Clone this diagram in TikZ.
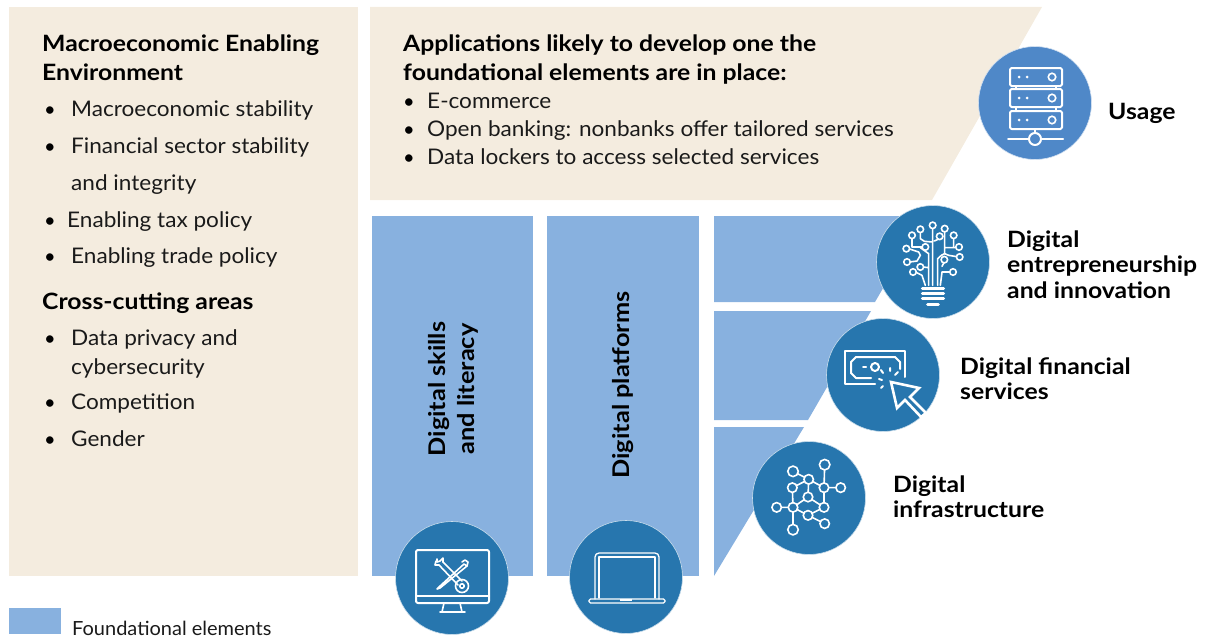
\documentclass[tikz,border=0pt]{standalone}
\usepackage{fontspec}
\setmainfont{Lato}
\newfontfamily\bodyf[FakeStretch=1.05]{Lato}
\newfontfamily\headf[FakeStretch=1.1]{Lato}
\newfontfamily\legf[FakeStretch=1.025]{Lato}
\definecolor{beige}{HTML}{F4ECDF}
\definecolor{lightblue}{HTML}{88B1DF}
\definecolor{darkblue}{HTML}{2776AE}
\definecolor{midblue}{HTML}{4F88C8}
\definecolor{ink}{HTML}{1A1A1A}
\tikzset{
  lbl/.style={anchor=base west,inner sep=0pt,text=ink,font=\bodyf\fontsize{21.5}{26}\selectfont},
  head/.style={anchor=base west,inner sep=0pt,text=black,font=\headf\fontsize{22.5}{26}\selectfont\bfseries},
  sub/.style={anchor=base west,inner sep=0pt,text=ink,font=\legf\fontsize{19.5}{24}\selectfont},
  bul/.style={anchor=base,inner sep=0pt,text=black,font=\fontsize{20}{24}\selectfont},
  vert/.style={rotate=90,inner sep=0pt,align=center,text=black,font=\headf\fontsize{23}{29}\selectfont\bfseries},
  disc/.style={circle,minimum size=113pt,inner sep=0pt,fill=darkblue,draw=white!75!darkblue,line width=.6pt},
  icon/.style={draw=white,line width=2pt,line join=round,line cap=round},
  thin icon/.style={draw=white,line width=1.6pt,line join=round,line cap=round},
  dot/.style={circle,draw=white,fill=darkblue,line width=1.6pt,inner sep=0pt,minimum size=#1},
  dot/.default=7pt
}
\begin{document}
\begin{tikzpicture}[x=1pt,y=-1pt]
\useasboundingbox (0,0) rectangle (1209,642);
% panels
\fill[beige] (9,7) rectangle (358,576);
\fill[beige] (370,7) -- (1042,7) -- (932,200) -- (370,200) -- cycle;
\fill[lightblue] (372,216) rectangle (533,576);
\fill[lightblue] (547,216) rectangle (699,576);
\fill[lightblue] (714,216) -- (925,216) -- (875,302) -- (714,302) -- cycle;
\fill[lightblue] (714,311) -- (871,311) -- (808,420) -- (714,420) -- cycle;
\fill[lightblue] (714,427) -- (804,427) -- (714,576) -- cycle;
\fill[lightblue] (9,608) rectangle (61,634);
% left text
\node[head] (m1) at (42,52) {Macroeconomic Enabling};
\node[head] (m2) at (42,80) {Environment};
\node[bul] (b1) at (50,116) {•};
\node[lbl] (t1) at (71,116) {Macroeconomic stability};
\node[bul] (b2) at (50,153) {•};
\node[lbl] (t2) at (71,153) {Financial sector stability};
\node[lbl] (t2b) at (71,190) {and integrity};
\node[bul] (b3) at (50,227) {•};
\node[lbl] (t3) at (67,227) {Enabling tax policy};
\node[bul] (b4) at (50,263) {•};
\node[lbl] (t4) at (71,263) {Enabling trade policy};
\node[head] (c1) at (42,309) {Cross-cutting areas};
\node[bul] (b5) at (50,345) {•};
\node[lbl] (t5) at (71,345) {Data privacy and};
\node[lbl] (t5b) at (71,374) {cybersecurity};
\node[bul] (b6) at (50,409) {•};
\node[lbl] (t6) at (71,409) {Competition};
\node[bul] (b7) at (50,446) {•};
\node[lbl] (t7) at (71,446) {Gender};
% top text
\node[head] (a1) at (403,52) {Applications likely to develop one the};
\node[head] (a2) at (403,80) {foundational elements are in place:};
\node[bul] (ab1) at (409,108) {•};
\node[lbl] (at1) at (427,108) {E-commerce};
\node[bul] (ab2) at (409,136) {•};
\node[lbl] (at2) at (427,136) {Open banking: nonbanks offer tailored services};
\node[bul] (ab3) at (409,164) {•};
\node[lbl] (at3) at (427,164) {Data lockers to access selected services};
% vertical labels
\node[vert] (v1) at (453,389) {Digital skills\\and literacy};
\node[vert] (v2) at (623,385) {Digital platforms};
% right labels
\node[head] (u) at (1108,119) {Usage};
\node[head] (e1) at (1007,247) {Digital};
\node[head] (e2) at (1007,272) {entrepreneurship};
\node[head] (e3) at (1007,298) {and innovation};
\node[head] (f1) at (960,374) {Digital financial};
\node[head] (f2) at (960,399) {services};
\node[head] (i1) at (893,492) {Digital};
\node[head] (i2) at (893,517) {infrastructure};
\node[sub] (leg) at (72,635) {Foundational elements};
% discs
\node[disc,fill=midblue,draw=white!75!midblue] (usage) at (1035,103) {};
\node[disc] (entre) at (933,262) {};
\node[disc] (fin) at (883,375) {};
\node[disc] (infra) at (809,498) {};
\node[disc] (skills) at (452,578) {};
\node[disc] (plat) at (626,577) {};
% usage icon
\begin{scope}[shift={(usage.center)}]
  \foreach \yy in {-35,-14,8}{
    \draw[icon,rounded corners=1.5pt] (-25,\yy) rectangle (27,\yy+18);
    \node[dot=7.5pt,fill=midblue] at (17,\yy+9) {};
    \fill[white] (-16,\yy+9) circle (1.5) (-8,\yy+9) circle (1.5);
  }
  \draw[thin icon] (-19,-17)--(-19,-14) (21,-17)--(21,-14) (-19,4)--(-19,8) (21,4)--(21,8);
  \draw[icon] (0,26)--(0,30) (-27,36)--(-6,36) (6,36)--(28,36);
  \node[circle,draw=white,line width=2pt,minimum size=12pt,inner sep=0pt] at (0,36) {};
\end{scope}
% bulb icon
\begin{scope}[shift={(entre.center)},x=.3333pt,y=-.3333pt]
  \begin{scope}[shift={(-218,-215)}]
  \draw[thin icon] (217,285)--(217,115)
    (180,125)--(180,145)--(192,153)--(217,155)
    (253,125)--(253,190)--(243,195)--(232,205)--(232,285)
    (238,145)--(222,152)
    (155,145)--(155,170)--(195,170)
    (180,172)--(205,190)--(205,285)
    (253,172)--(290,172)
    (280,145)--(280,172)
    (145,175)--(175,185)--(180,195)--(170,212)--(148,215)
    (296,200)--(265,195)--(253,190)
    (252,215)--(245,228)
    (188,230)--(205,232)
    (165,245)--(185,255)--(195,285)
    (270,245)--(245,245)--(240,285);
  \draw[white,line width=3pt,line cap=round] (186,295)--(250,295) (186,310)--(250,310) (186,325)--(250,325) (202,343)--(234,343);
  \foreach \xx/\yy in {217/105,180/117,253/115,155/135,238/138,280/135,138/175,195/170,296/170,298/200,140/215,252/208,180/230,158/245,278/245}
    \node[dot=6.5pt] at (\xx,\yy) {};
  \end{scope}
\end{scope}
% money icon
\begin{scope}[shift={(fin.center)}]
  \draw[icon] (-8,9)--(-38,9)--(-38,-24)--(22,-24)--(22,2);
  \draw[icon] (-12,3)--(-27,3)--(-32,-2)--(-32,-13)--(-27,-18)--(12,-18)--(17,-13)--(17,-6);
  \draw[icon] (-20,-8)--(-17,-8);
  \draw[icon] (-8,-8) circle (4);
  \draw[icon] (-2,-5)--(0,-2) (7,-7)--(7,-4) (15,-3)--(12,0) (-4,4)--(-1,5) (-2,13)--(0,11);
  \draw[line width=2.6pt,draw=white,line join=miter] (8,7)--(36,13)--(27,22)--(43,38)--(38,42)--(22,25)--(14,33)--cycle;
\end{scope}
% network icon
\begin{scope}[shift={(infra.center)},x=.3333pt,y=-.3333pt]
  \begin{scope}[shift={(-193,-203)}]
  \coordinate (a) at (240,103); \coordinate (b) at (145,123); \coordinate (c) at (192,147);
  \coordinate (d) at (143,172); \coordinate (e) at (238,172); \coordinate (f) at (288,172);
  \coordinate (g) at (190,200); \coordinate (h) at (96,231); \coordinate (i) at (145,231);
  \coordinate (j) at (238,231); \coordinate (k) at (190,255); \coordinate (l) at (240,280);
  \coordinate (m) at (145,298);
  \draw[thin icon] (a)--(e) (b)--(c) (c)--(d) (c)--(e) (d)--(i) (e)--(f) (e)--(j) (c)--(g)
    (g)--(i) (g)--(j) (h)--(i) (i)--(k) (k)--(j) (k)--(l) (i)--(m);
  \foreach \n in {c,d,e,g,i,j,k,l,h,f} \node[dot=9.5pt] at (\n) {};
  \foreach \n in {a,b,m} \node[dot=10.5pt] at (\n) {};
  \end{scope}
\end{scope}
% monitor icon
\begin{scope}[shift={(skills.center)}]
  \draw[icon,rounded corners=2pt] (-36,-28) rectangle (37,25);
  \draw[icon] (-36,18)--(37,18);
  \draw[thin icon] (-8,25)--(-10,34) (8,25)--(10,34) (-12,34)--(13,34);
  % pencil
  \draw[thin icon] (12,-14)--(-13,9)--(-15,11)--(-12,10)--(15,-12)--cycle;
  \draw[thin icon] (10,-16)--(13,-18)--(16,-16)--(15,-12);
  % wrench
  \draw[thin icon] (-13,-13)--(6,7) (-9,-16)--(10,3);
  \draw[thin icon] (-9,-16)--(-9,-20)--(-12,-17)--(-15,-16)--(-15,-19) (-13,-13)--(-17,-13)--(-16,-17);
  \draw[thin icon] (10,8) circle (6.5);
  \draw[thin icon] (10,8) circle (2.2);
\end{scope}
% laptop icon
\begin{scope}[shift={(plat.center)}]
  \draw[thin icon,line width=1.3pt,rounded corners=4pt] (-31,22)--(-31,-24)--(33,-24)--(33,22);
  \draw[thin icon,line width=1.3pt] (-27,21)--(-27,-20)--(29,-20)--(29,21);
  \draw[thin icon,line width=1.3pt,rounded corners=1.5pt] (-37,22) rectangle (39,26);
  \draw[white,line width=1.4pt] (-6,23)--(6,23);
\end{scope}
\end{tikzpicture}
\end{document}
